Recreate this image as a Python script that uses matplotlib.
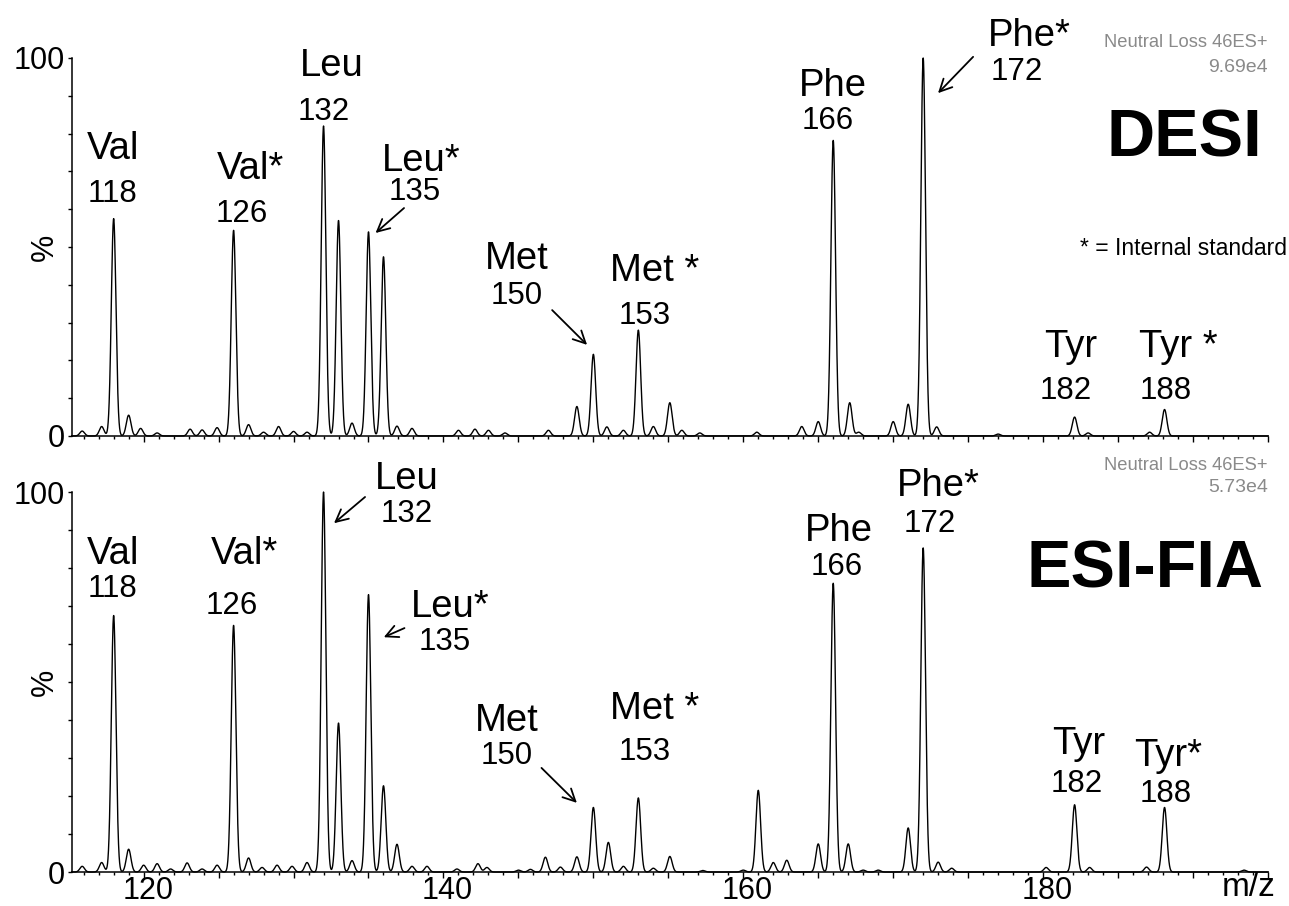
import numpy as np
import matplotlib
matplotlib.use('Agg')
import matplotlib.pyplot as plt
from matplotlib.transforms import offset_copy, ScaledTranslation
from matplotlib.ticker import MultipleLocator, FuncFormatter

plt.rcParams['font.family'] = ['Liberation Sans', 'DejaVu Sans']

# peak lists (m/z, relative intensity %)
desi_mz = [115.9, 117.2, 118.0, 119.0, 119.8, 120.9, 123.1, 123.9, 124.9, 126.0,
           127.0, 128.0, 129.0, 130.0, 130.9, 132.0, 133.0, 133.9, 135.0, 136.0,
           136.9, 137.9, 141.0, 142.1, 143.0, 144.1, 147.0, 148.9, 150.0, 150.9,
           152.0, 153.0, 154.0, 155.1, 155.9, 157.1, 160.9, 163.9, 165.0, 166.0,
           167.1, 167.7, 170.0, 171.0, 172.0, 172.9, 177.0, 182.1, 183.0, 187.1,
           188.1]
desi_int = [1.3, 2.5, 57.5, 5.5, 2.0, 0.8, 1.8, 1.6, 2.2, 54.4,
            3.0, 1.0, 2.5, 1.2, 1.0, 82.0, 57.0, 3.4, 54.0, 47.4,
            2.6, 2.0, 1.5, 1.8, 1.5, 0.8, 1.5, 7.8, 21.6, 2.4,
            1.5, 28.0, 2.5, 8.8, 1.5, 0.8, 1.0, 2.5, 3.8, 78.2,
            8.8, 1.0, 3.8, 8.4, 100.0, 2.4, 0.5, 5.0, 0.8, 1.0,
            7.0]

esi_mz = [115.9, 117.2, 118.0, 119.0, 120.0, 120.9, 121.8, 122.9, 123.9, 124.9,
          126.0, 127.0, 127.9, 128.9, 129.9, 130.9, 132.0, 133.0, 133.9, 135.0,
          136.0, 136.9, 137.9, 138.9, 140.9, 142.3, 142.9, 145.0, 145.8, 146.8,
          147.8, 148.9, 150.0, 151.0, 152.0, 153.0, 154.0, 155.1, 157.3, 160.0,
          161.0, 162.0, 162.9, 165.0, 166.0, 167.0, 168.0, 169.0, 171.0, 172.0,
          173.0, 173.9, 180.2, 182.1, 183.1, 186.9, 188.1, 193.4]
esi_int = [1.5, 2.5, 67.5, 6.0, 1.8, 2.2, 0.8, 2.4, 0.8, 1.8,
           64.9, 3.7, 1.2, 1.8, 1.5, 2.5, 100.0, 39.2, 3.0, 73.0,
           22.7, 7.3, 1.5, 1.5, 0.8, 2.2, 1.2, 0.5, 0.7, 3.9,
           1.3, 4.0, 17.0, 7.8, 1.5, 19.5, 1.0, 4.1, 0.4, 0.5,
           21.5, 2.5, 3.1, 7.4, 76.0, 7.4, 0.5, 0.5, 11.6, 85.3,
           2.6, 1.0, 1.2, 17.7, 1.2, 1.3, 17.0, 0.5]

# annotations: (text, m/z, %)
desi_names = [('Val', 117.96, 77.0), ('Val*', 127.1, 71.7), ('Leu', 132.57, 98.9),
              ('Leu*', 138.5, 73.8), ('Met', 144.88, 47.9), ('Met *', 154.1, 44.7),
              ('Phe', 165.95, 93.7), ('Phe*', 179.06, 106.9), ('Tyr', 181.83, 24.6),
              ('Tyr *', 189.0, 24.6)]
desi_nums = [('118', 117.9, 65.1), ('126', 126.56, 59.8), ('132', 132.03, 86.8),
             ('135', 138.1, 65.6), ('150', 144.88, 38.1), ('153', 153.44, 32.8),
             ('166', 165.65, 84.4), ('172', 178.26, 97.4), ('182', 181.53, 13.0),
             ('188', 188.18, 13.0)]
desi_arrows = [((137.37, 60.3), (135.47, 53.7)), ((147.25, 33.3), (149.58, 24.1)),
               ((175.33, 100.3), (172.99, 90.7))]

esi_names = [('Val', 117.96, 84.7), ('Val*', 126.7, 84.7), ('Leu', 137.54, 104.5),
             ('Leu*', 140.46, 70.8), ('Met', 144.24, 40.8), ('Met *', 154.1, 43.9),
             ('Phe', 166.37, 90.8), ('Phe*', 172.99, 102.6), ('Tyr', 182.38, 34.7),
             ('Tyr*', 188.32, 31.6)]
esi_nums = [('118', 117.9, 75.5), ('126', 125.9, 71.1), ('132', 137.54, 95.3),
            ('135', 140.06, 61.6), ('150', 144.24, 31.6), ('153', 153.44, 32.6),
            ('166', 166.23, 81.3), ('172', 172.44, 92.6), ('182', 182.25, 24.2),
            ('188', 188.18, 21.6)]
esi_arrows = [((134.77, 98.7), (132.7, 91.8)), ((137.4, 64.2), (136.02, 61.8)),
              ((146.54, 27.4), (148.9, 18.2))]

xmin, xmax = 115.2, 195.0
sigma = 0.155  # peak width (m/z) used to draw each peak profile


def profile(x, mz, inten):
    y = np.zeros_like(x)
    for m, h in zip(mz, inten):
        y += h * np.exp(-0.5 * ((x - m) / sigma) ** 2)
    return y


def style_axes(ax, show_xlabels):
    ax.set_xlim(xmin, xmax)
    ax.set_ylim(0, 100)
    for s in ['top', 'right']:
        ax.spines[s].set_visible(False)
    ax.spines['left'].set_linewidth(1.1)
    ax.spines['bottom'].set_linewidth(1.1)
    ax.set_yticks([0, 100])
    ax.yaxis.set_minor_locator(MultipleLocator(10))
    ax.xaxis.set_major_locator(MultipleLocator(5))
    ax.xaxis.set_minor_locator(MultipleLocator(1))
    ax.xaxis.set_major_formatter(FuncFormatter(
        lambda v, p: '%d' % v if (show_xlabels and round(v) % 20 == 0) else ''))
    ax.tick_params(axis='y', which='major', labelsize=22, length=3, width=1, pad=2)
    ax.tick_params(axis='y', which='minor', length=3, width=1)
    ax.tick_params(axis='x', which='major', labelsize=22, length=4, width=1, pad=-1)
    ax.tick_params(axis='x', which='minor', length=2.5, width=1)
    ax.text(-0.0223, 0.5, '%', transform=ax.transAxes, rotation=90,
            ha='center', va='center', fontsize=22)


def draw_panel(ax, mz, inten, names_, nums, arrows, title, nl_text, scale_text, nl_y):
    x = np.linspace(xmin, xmax, 12000)
    ax.plot(x, profile(x, mz, inten), color='black', lw=1.0, clip_on=False)
    # text centres were measured on glyphs; nudge down for the descender space
    tr = offset_copy(ax.transData, fig=ax.figure, y=-3, units='points')
    for t, xx, yy in names_:
        ax.text(xx, yy, t, ha='center', va='center', fontsize=27.5,
                transform=tr, clip_on=False)
    for t, xx, yy in nums:
        ax.text(xx, yy, t, ha='center', va='center', fontsize=22.5,
                transform=tr, clip_on=False)
    for tail, tip in arrows:
        ax.annotate('', xy=tip, xytext=tail,
                    arrowprops=dict(arrowstyle='->', lw=1.3, color='black',
                                    mutation_scale=22, shrinkA=0, shrinkB=0),
                    annotation_clip=False)
    tr_t = offset_copy(ax.transData, fig=ax.figure, y=-title[3], units='points')
    ax.text(title[1], title[2], title[0], ha='center', va='center',
            fontsize=48, fontweight='bold', transform=tr_t, clip_on=False)
    ax.text(xmax, nl_y[0], nl_text, ha='right', va='center', color='#8a8a8a',
            fontsize=13.2, clip_on=False)
    ax.text(xmax, nl_y[1], scale_text, ha='right', va='center', color='#8a8a8a',
            fontsize=14, clip_on=False)


fig = plt.figure(figsize=(12.89, 9.06), dpi=100)
ax1 = fig.add_axes([0.0556, 0.5188, 0.9281, 0.4172])
ax2 = fig.add_axes([0.0556, 0.0375, 0.9281, 0.4194])

style_axes(ax1, False)
style_axes(ax2, True)

draw_panel(ax1, desi_mz, desi_int, desi_names, desi_nums, desi_arrows,
           ('DESI', 189.4, 80.2, 4.5), 'Neutral Loss 46ES+', '9.69e4', (104.2, 97.6))
draw_panel(ax2, esi_mz, esi_int, esi_names, esi_nums, esi_arrows,
           ('ESI-FIA', 186.8, 80.3, 2.5), 'Neutral Loss 46ES+', '5.73e4', (107.1, 101.1))

ax1.text(196.27, 49.7, '* = Internal standard', ha='right', va='center',
         fontsize=16.5, clip_on=False)
ax2.text(193.7, -4.2, 'm/z', ha='center', va='center', fontsize=24, clip_on=False)

# the printed axis numbers sit a few pixels right of their ticks
shift = ScaledTranslation(3 / 72, 0, fig.dpi_scale_trans)
for lab in ax2.get_xticklabels():
    lab.set_transform(lab.get_transform() + shift)

fig.savefig('out.png', dpi=100, facecolor='white')
